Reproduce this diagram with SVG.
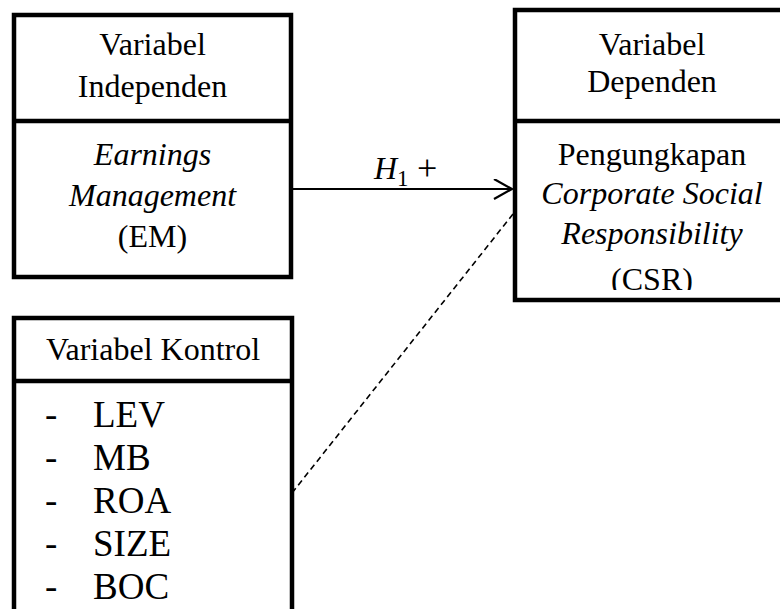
<svg xmlns="http://www.w3.org/2000/svg" width="780" height="609" viewBox="0 0 780 609">
  <style>
    .box { fill: #ffffff; stroke: #000000; stroke-width: 4.5; }
    .div { stroke: #000000; stroke-width: 4.5; }
    .t { font-family: "Liberation Serif", "Times New Roman", serif; font-size: 32px; fill: #000000; text-anchor: middle; }
    .i { font-style: italic; }
    .li { font-family: "Liberation Serif", "Times New Roman", serif; font-size: 37px; fill: #000000; }
    .conn { stroke: #000000; fill: none; }
  </style>
  <defs>
    <clipPath id="clipDep">
      <rect x="514" y="122" width="280" height="168"/>
    </clipPath>
    <marker id="open" markerWidth="24" markerHeight="24" refX="20" refY="10" orient="auto" markerUnits="userSpaceOnUse">
      <path d="M2,0 L20,10 L2,20" fill="none" stroke="#000" stroke-width="2.2"/>
    </marker>
  </defs>
  <rect width="780" height="609" fill="#ffffff"/>

  <g id="connectors">
    <line class="conn" x1="291" y1="189" x2="512" y2="189" stroke-width="2" marker-end="url(#open)"/>
    <line class="conn" x1="292" y1="493" x2="513" y2="214" stroke-width="1.6" stroke-dasharray="6,4"/>
    <g id="label-h1" font-family="'Liberation Serif', 'Times New Roman', serif" fill="#000">
      <text x="374" y="179" font-size="32" font-style="italic">H</text>
      <text x="397" y="186" font-size="23">1</text>
      <text x="417" y="180" font-size="36">+</text>
    </g>
  </g>

  <g id="node-independen">
    <rect class="box" x="14" y="15" width="277" height="262"/>
    <line class="div" x1="14" y1="121" x2="291" y2="121"/>
    <text class="t" x="152.5" y="55">Variabel</text>
    <text class="t" x="152.5" y="97">Independen</text>
    <text class="t i" x="152.5" y="165">Earnings</text>
    <text class="t i" x="152.5" y="206">Management</text>
    <text class="t" x="152.5" y="247">(EM)</text>
  </g>

  <g id="node-dependen">
    <rect class="box" x="515" y="10" width="290" height="290"/>
    <line class="div" x1="515" y1="121" x2="790" y2="121"/>
    <text class="t" x="652" y="55">Variabel</text>
    <text class="t" x="652" y="92">Dependen</text>
    <g clip-path="url(#clipDep)">
      <text class="t" x="652" y="165">Pengungkapan</text>
      <text class="t i" x="652" y="204">Corporate Social</text>
      <text class="t i" x="652" y="244">Responsibility</text>
      <text class="t" x="652" y="290">(CSR)</text>
    </g>
  </g>

  <g id="node-kontrol">
    <rect class="box" x="14" y="318" width="278" height="310"/>
    <line class="div" x1="14" y1="381" x2="292" y2="381"/>
    <text class="t" x="153" y="360">Variabel Kontrol</text>
    <text class="li" x="45" y="427">-</text>
    <text class="li" x="93" y="427">LEV</text>
    <text class="li" x="45" y="470">-</text>
    <text class="li" x="93" y="470">MB</text>
    <text class="li" x="45" y="513">-</text>
    <text class="li" x="93" y="513">ROA</text>
    <text class="li" x="45" y="556">-</text>
    <text class="li" x="93" y="556">SIZE</text>
    <text class="li" x="45" y="599">-</text>
    <text class="li" x="93" y="599">BOC</text>
  </g>
</svg>
